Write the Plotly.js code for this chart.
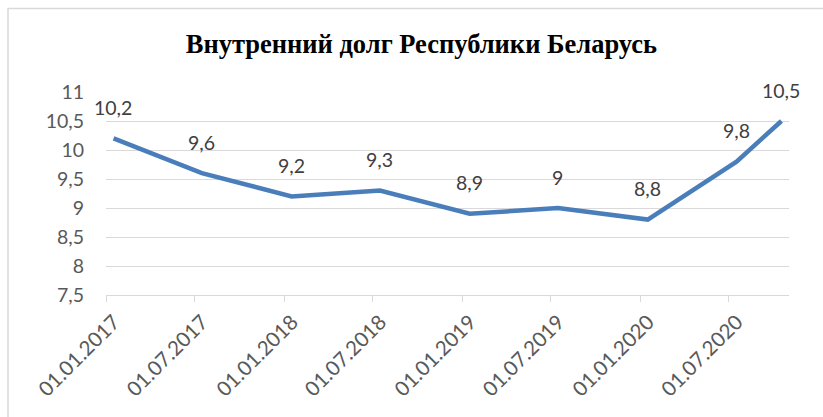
<!DOCTYPE html>
<html>
<head>
<meta charset="utf-8">
<script src="https://cdn.plot.ly/plotly-3.0.1.min.js"></script>
<style>
html,body{margin:0;padding:0;background:#fff;}
#chart{width:823px;height:417px;}
</style>
</head>
<body>
<div id="chart"></div>
<script>
// Data
const dates = ['2017-01-01','2017-07-01','2018-01-01','2018-07-01','2019-01-01','2019-07-01','2020-01-01','2020-07-01','2020-10-01'];
const values = [10.2, 9.6, 9.2, 9.3, 8.9, 9.0, 8.8, 9.8, 10.5];
const tickDates = ['2017-01-01','2017-07-01','2018-01-01','2018-07-01','2019-01-01','2019-07-01','2020-01-01','2020-07-01'];
const tickLabels = ['01.01.2017','01.07.2017','01.01.2018','01.07.2018','01.01.2019','01.07.2019','01.01.2020','01.07.2020'];
const yTicks = [7.5, 8, 8.5, 9, 9.5, 10, 10.5, 11];
const titleText = 'Внутренний долг Республики Беларусь';

const fmt = v => String(v).replace('.', ',');
const labelFont = {family: 'Lato, "Open Sans", sans-serif', size: 19.5, color: '#404040'};

// point positions mid-month (Excel date-axis "between tick marks")
function midMonth(d) {
  const dt = new Date(d + 'T00:00:00Z');
  dt.setUTCDate(dt.getUTCDate() + 15);
  return dt.toISOString().slice(0, 10);
}

const trace = {
  x: dates,
  y: values,
  type: 'scatter',
  mode: 'lines',
  xperiod: 'M1',
  xperiodalignment: 'middle',
  line: {color: '#4a7ebb', width: 4.5},
  hoverinfo: 'skip'
};

const annotations = dates.map((d, i) => ({
  x: midMonth(d), y: values[i], xref: 'x', yref: 'y',
  text: fmt(values[i]), showarrow: false, yshift: 31,
  font: labelFont
}));

const layout = {
  width: 823, height: 417,
  margin: {l: 106, r: 34, t: 92, b: 122},
  paper_bgcolor: '#ffffff', plot_bgcolor: '#ffffff',
  showlegend: false,
  title: {
    text: '<b>' + titleText + '</b>',
    font: {family: '"Liberation Serif", "Times New Roman", serif', size: 26.5, color: '#000000'},
    x: 0.512, xref: 'container', xanchor: 'center',
    y: 1 - 44 / 417, yref: 'container', yanchor: 'middle'
  },
  xaxis: {
    type: 'date',
    range: ['2017-01-01', '2020-11-01'],
    tickmode: 'array',
    tickvals: tickDates,
    ticktext: tickLabels,
    tickangle: -45,
    tickfont: {family: 'Lato, "Open Sans", sans-serif', size: 20.5, color: '#595959'},
    ticks: 'outside', ticklen: 6, tickcolor: '#d9d9d9', tickwidth: 1,
    ticklabelshift: 8,
    showline: true, linecolor: '#d9d9d9', linewidth: 1,
    showgrid: false, zeroline: false, fixedrange: true
  },
  yaxis: {
    range: [7.5, 11],
    tickmode: 'array',
    tickvals: yTicks,
    ticktext: yTicks.map(fmt),
    tickfont: {family: 'Lato, "Open Sans", sans-serif', size: 19.5, color: '#595959'},
    ticks: '', ticklabelstandoff: 21,
    showgrid: true, gridcolor: '#d9d9d9', gridwidth: 1,
    showline: false, zeroline: false, fixedrange: true
  },
  annotations: annotations,
  shapes: [{
    type: 'rect', xref: 'paper', yref: 'paper',
    x0: (8 - 106) / 683, x1: (830 - 106) / 683,
    y0: (295 - 430) / 203, y1: (295 - 8.5) / 203,
    line: {color: '#d9d9d9', width: 1.5}, fillcolor: 'rgba(0,0,0,0)', layer: 'below'
  }]
};

Plotly.newPlot('chart', [trace], layout, {displayModeBar: false, staticPlot: true});
</script>
</body>
</html>
